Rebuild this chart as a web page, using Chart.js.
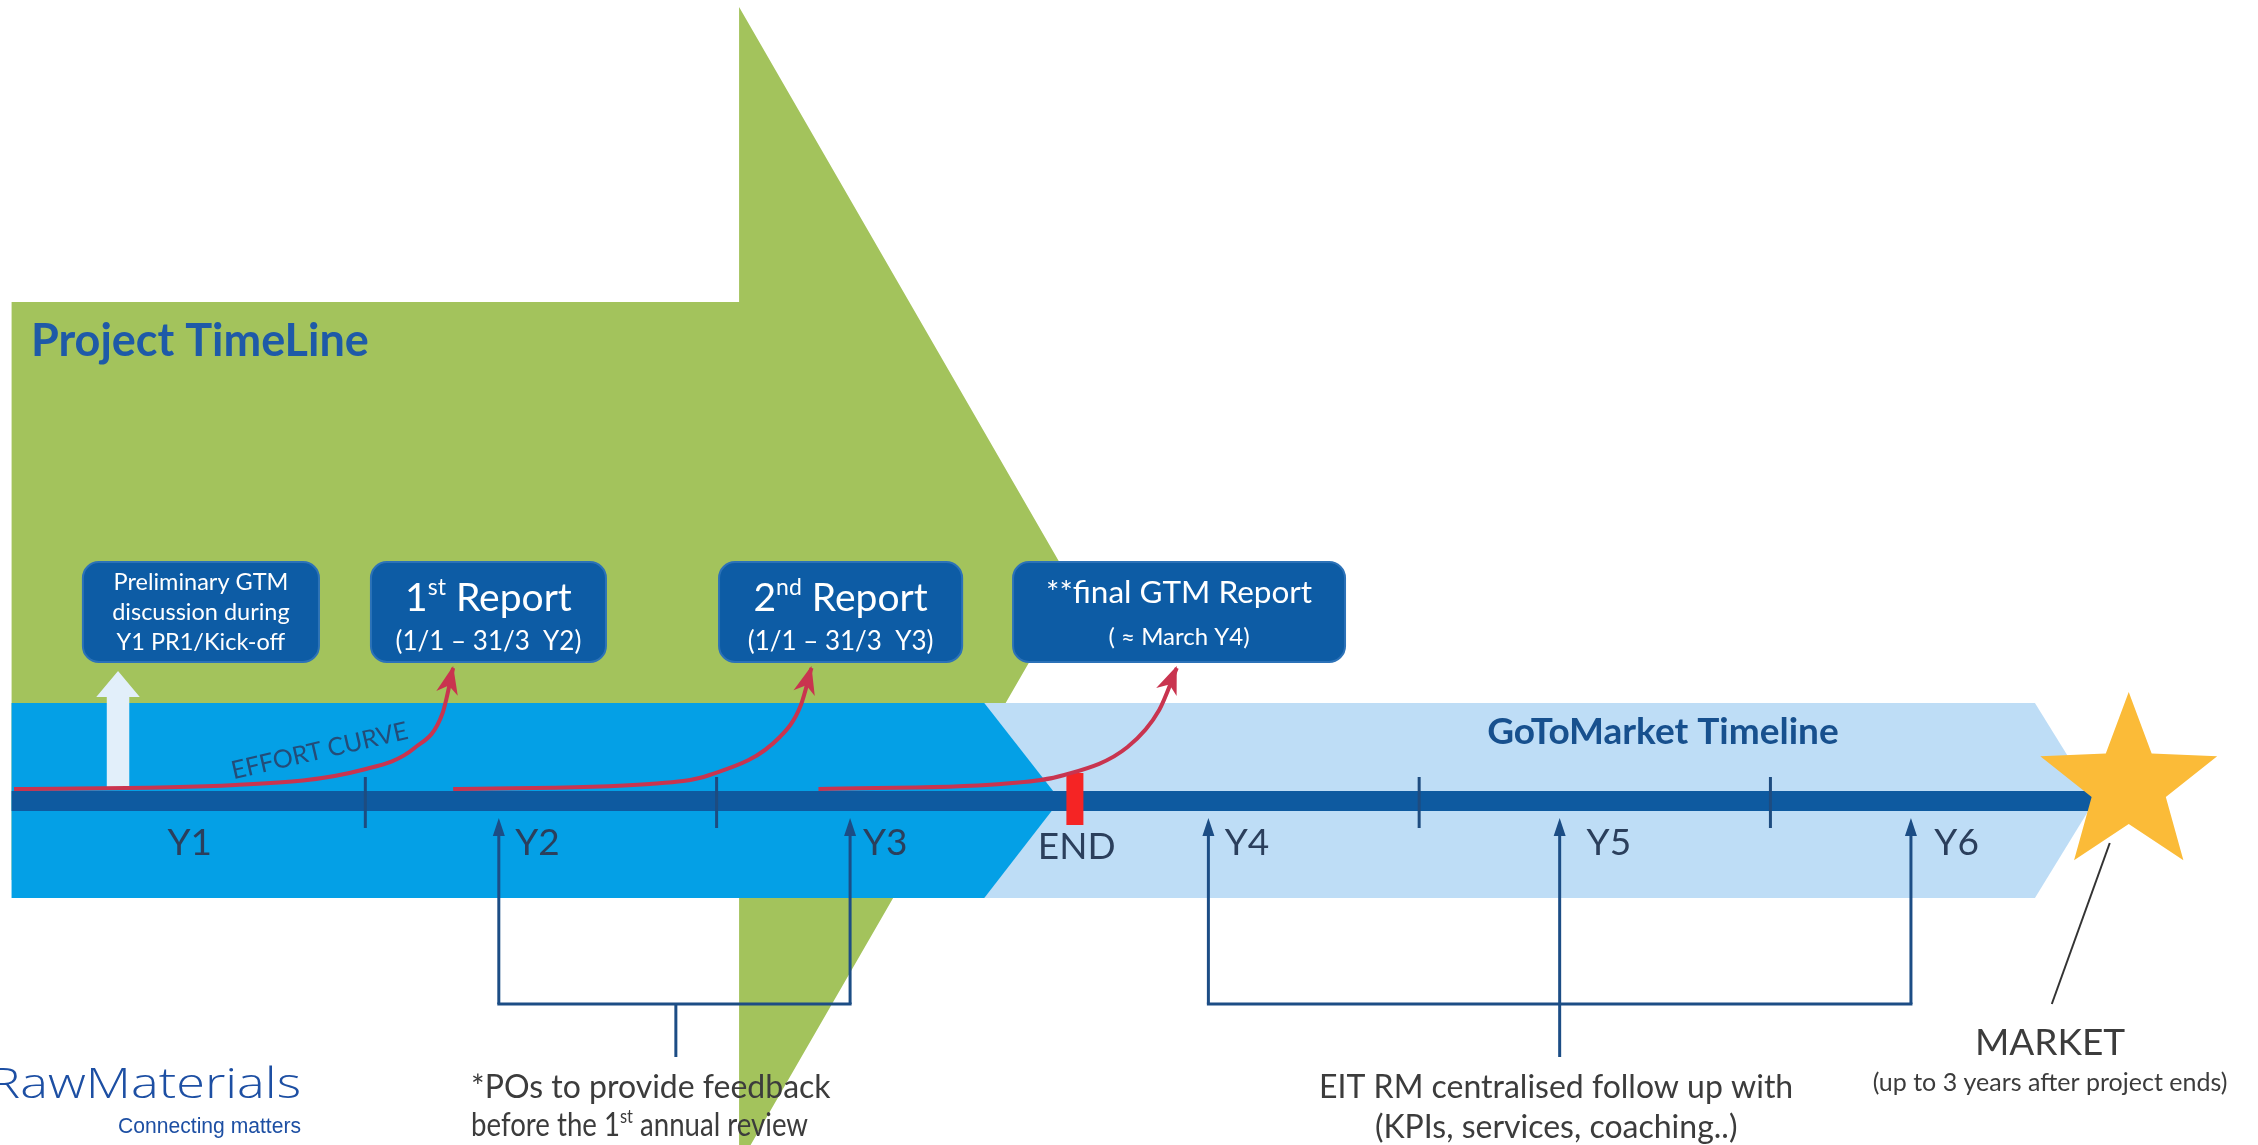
<!DOCTYPE html>
<html><head><meta charset="utf-8">
<script src="https://cdn.jsdelivr.net/npm/chart.js@4.4.1/dist/chart.umd.min.js"></script>
<style>html,body{margin:0;padding:0;background:#fff;overflow:hidden}canvas{display:block}</style>
</head><body>
<canvas id="c" width="2258" height="1145"></canvas>
<script>
// x axis: project years (0 = project start); y axis: diagram height units (0 top .. 1145 bottom)
const yearLabels = ['Y1', 'Y2', 'Y3', 'Y4', 'Y5', 'Y6'];
const yearLabelPos = [0.50, 1.49, 2.48, 3.51, 4.54, 5.53];
const yearTicks = [1, 2, 4, 5];
const projectEnd = 3.02;
const endLabel = 'END';
const followUpArrows = [1.38, 2.38, 3.40, 4.40, 5.40];
const feedbackBracket = [1.38, 2.38, 1.884];
const followUpBracket = [3.40, 5.40, 4.40];

const curve1X = [0.00, 0.63, 0.99, 1.14, 1.22, 1.25];
const curve1Y = [789, 785, 770, 748, 713, 668];
const curve2X = [1.25, 1.81, 1.98, 2.18, 2.24, 2.27];
const curve2Y = [789, 784, 775, 737, 705, 668];
const curve3X = [2.29, 2.81, 2.99, 3.17, 3.26, 3.31];
const curve3Y = [789, 784, 775, 747, 710, 668];

const boxLeft = [0.196, 1.016, 2.007, 2.844];
const boxRight = [0.868, 1.685, 2.699, 3.789];
const boxTexts = [
  ['Preliminary GTM', 'discussion during', 'Y1 PR1/Kick-off'],
  ['1^st^ Report', '(1/1 – 31/3  Y2)'],
  ['2^nd^ Report', '(1/1 – 31/3  Y3)'],
  ['**final GTM Report', '( ≈ March Y4)']
];
const projectTitle = 'Project TimeLine';
const gtmTitle = 'GoToMarket Timeline';
const effortLabel = 'EFFORT CURVE';
const feedbackNote = ['*POs to provide feedback', 'before the 1^st^ annual review'];
const followUpNote = ['EIT RM centralised follow up with', '(KPIs, services, coaching..)'];
const marketNote = ['MARKET', '(up to 3 years after project ends)'];
const logoText = ['RawMaterials', 'Connecting matters'];
const marketStar = [6.02, 785];

const diagram = {
  id: 'diagram',
  beforeDatasetsDraw(chart) {
    const c = chart.ctx;
    const X = v => chart.scales.x.getPixelForValue(v);
    const Y = v => chart.scales.y.getPixelForValue(v);
    const poly = (pts, col) => {
      c.beginPath();
      pts.forEach((p, i) => i ? c.lineTo(X(p[0]), Y(p[1])) : c.moveTo(X(p[0]), Y(p[1])));
      c.closePath(); c.fillStyle = col; c.fill();
    };
    c.save();
    // green project arrow
    poly([[-0.007, 302], [2.064, 302], [2.064, 7], [3.015, 586], [2.064, 1165], [2.064, 880], [-0.007, 880]], '#A3C35C');
    // go-to-market band
    poly([[2.6, 703], [5.753, 703], [5.924, 800], [5.753, 898], [2.6, 898]], '#BEDDF6');
    // project band
    poly([[-0.007, 703], [2.762, 703], [2.978, 800], [2.762, 898], [-0.007, 898]], '#04A0E6');
    // pale up arrow
    poly([[0.264, 787], [0.264, 697], [0.234, 697], [0.296, 671], [0.358, 697], [0.328, 697], [0.328, 787]], '#E2EFFA');
    // dark timeline bar
    poly([[-0.007, 791], [5.924, 791], [5.924, 811], [-0.007, 811]], '#0E5AA0');
    // year ticks
    c.strokeStyle = '#1E4C80'; c.lineWidth = 3;
    yearTicks.forEach(t => { c.beginPath(); c.moveTo(X(t), Y(777)); c.lineTo(X(t), Y(828)); c.stroke(); });
    // END marker
    c.fillStyle = '#F52424';
    c.fillRect(X(projectEnd) - 8.5, Y(773), 17, Y(825) - Y(773));
    c.restore();
  },
  afterDatasetsDraw(chart) {
    const c = chart.ctx;
    const X = v => chart.scales.x.getPixelForValue(v);
    const Y = v => chart.scales.y.getPixelForValue(v);
    c.save();
    // effort arrow heads
    [[curve1X, curve1Y], [curve2X, curve2Y], [curve3X, curve3Y]].forEach(([xs, ys]) => {
      const n = xs.length;
      const tx = X(xs[n - 1]), ty = Y(ys[n - 1]) - 2;
      const px = X(xs[n - 2]), py = Y(ys[n - 2]);
      const a = Math.atan2(ty - py, tx - px);
      c.save(); c.translate(tx, ty); c.rotate(a);
      c.beginPath(); c.moveTo(0, 0); c.lineTo(-28, -11); c.lineTo(-20, 0); c.lineTo(-28, 11); c.closePath();
      c.fillStyle = '#C9344F'; c.fill(); c.restore();
    });
    // rich text helper (optional target width squeezes horizontally)
    const rich = (txt, size, x, base, align, col, weight, target) => {
      const parts = txt.split('^');
      const fontN = (weight || '') + ' ' + size + 'px Lato';
      const fontS = (weight || '') + ' ' + Math.round(size * 0.6) + 'px Lato';
      let w = 0;
      parts.forEach((p, i) => { c.font = i % 2 ? fontS : fontN; w += c.measureText(p).width; });
      const s = target ? target / w : 1;
      const tw = w * s;
      const sx = align === 'center' ? x - tw / 2 : (align === 'right' ? x - tw : x);
      c.save(); c.translate(sx, base); c.scale(s, 1);
      c.fillStyle = col; c.textAlign = 'left'; c.textBaseline = 'alphabetic';
      let ox = 0;
      parts.forEach((p, i) => {
        c.font = i % 2 ? fontS : fontN;
        c.fillText(p, ox, i % 2 ? -size * 0.4 : 0);
        ox += c.measureText(p).width;
      });
      c.restore();
    };
    // boxes
    boxLeft.forEach((l, i) => {
      const x0 = X(l), x1 = X(boxRight[i]), y0 = Y(562), y1 = Y(662);
      c.beginPath(); c.roundRect(x0, y0, x1 - x0, y1 - y0, 16);
      c.fillStyle = '#0D5CA5'; c.fill();
      c.lineWidth = 2; c.strokeStyle = '#2C72B8'; c.stroke();
      const cx = (x0 + x1) / 2, t = boxTexts[i];
      if (i === 0) {
        t.forEach((s, k) => rich(s, 23.5, cx, Y(590 + k * 30), 'center', '#FFFFFF'));
      } else if (i < 3) {
        rich(t[0], 39, cx, Y(611), 'center', '#FFFFFF');
        rich(t[1], 26, cx, Y(650), 'center', '#FFFFFF');
      } else {
        rich(t[0], 31.5, cx, Y(603), 'center', '#FFFFFF');
        rich(t[1], 24, cx, Y(645), 'center', '#FFFFFF');
      }
    });
    // follow-up arrows and brackets
    c.strokeStyle = '#1C4D85'; c.fillStyle = '#1C4D85'; c.lineWidth = 3;
    followUpArrows.forEach(a => {
      c.beginPath(); c.moveTo(X(a), Y(1004)); c.lineTo(X(a), Y(832)); c.stroke();
      c.beginPath(); c.moveTo(X(a), Y(818)); c.lineTo(X(a) - 6, Y(836)); c.lineTo(X(a) + 6, Y(836)); c.closePath(); c.fill();
    });
    [feedbackBracket, followUpBracket].forEach(b => {
      c.beginPath(); c.moveTo(X(b[0]) - 1.5, Y(1004)); c.lineTo(X(b[1]) + 1.5, Y(1004)); c.stroke();
      c.beginPath(); c.moveTo(X(b[2]), Y(1004)); c.lineTo(X(b[2]), Y(1057)); c.stroke();
    });
    // market pointer line
    c.strokeStyle = '#333333'; c.lineWidth = 2;
    c.beginPath(); c.moveTo(X(5.966), Y(843)); c.lineTo(X(5.801), Y(1004)); c.stroke();
    // star
    const scx = X(marketStar[0]), scy = Y(marketStar[1]), R = 93, r = 39;
    c.beginPath();
    for (let k = 0; k < 10; k++) {
      const ang = -Math.PI / 2 + k * Math.PI / 5, rr = k % 2 ? r : R;
      const px = scx + rr * Math.cos(ang), py = scy + rr * Math.sin(ang);
      k ? c.lineTo(px, py) : c.moveTo(px, py);
    }
    c.closePath(); c.fillStyle = '#FBBB38'; c.fill();
    // titles
    rich(projectTitle, 45, X(0.048), Y(356), 'left', '#1E5AA8', 'bold');
    rich(gtmTitle, 37, X(4.694), Y(744), 'center', '#17508E', 'bold');
    // year labels
    yearLabels.forEach((s, i) => rich(s, 37, X(yearLabelPos[i]), Y(855), 'center', '#2B3F5C'));
    rich(endLabel, 37, X(projectEnd + 0.005), Y(859), 'center', '#2B3F5C');
    // effort label
    c.save(); c.translate(X(0.87), Y(751)); c.rotate(-13 * Math.PI / 180);
    c.font = '25px Lato'; c.fillStyle = '#244C78'; c.textAlign = 'center'; c.textBaseline = 'middle';
    c.fillText(effortLabel, 0, 0); c.restore();
    // notes
    rich(feedbackNote[0], 32, X(1.301), Y(1098), 'left', '#3C3C3C');
    rich(feedbackNote[1], 32, X(1.301), Y(1136), 'left', '#3C3C3C', '', 337);
    rich(followUpNote[0], 32, X(4.39), Y(1098), 'center', '#3C3C3C');
    rich(followUpNote[1], 32, X(4.39), Y(1138), 'center', '#3C3C3C');
    rich(marketNote[0], 37, X(5.796), Y(1055), 'center', '#3C3C3C');
    rich(marketNote[1], 25, X(5.796), Y(1091), 'center', '#3C3C3C');
    // logo
    const fit = (txt, font, right, base, width, col) => {
      c.font = font; const w = c.measureText(txt).width;
      c.save(); c.translate(X(right), Y(base)); c.scale(width / w, 1);
      c.fillStyle = col; c.textAlign = 'right'; c.textBaseline = 'alphabetic';
      c.fillText(txt, 0, 0); c.restore();
    };
    fit(logoText[0], '300 42px "Open Sans"', 0.817, 1098, 312, '#1D4FA3');
    fit(logoText[1], '22px "Liberation Sans"', 0.817, 1133, 183, '#1D4FA3');
    c.restore();
  }
};

const mk = (xs, ys) => xs.map((v, i) => ({ x: v, y: ys[i] }));
new Chart(document.getElementById('c'), {
  type: 'line',
  data: {
    datasets: [[curve1X, curve1Y], [curve2X, curve2Y], [curve3X, curve3Y]].map(([xs, ys]) => ({
      data: mk(xs, ys),
      borderColor: '#C9344F',
      borderWidth: 4,
      pointRadius: 0,
      fill: false,
      cubicInterpolationMode: 'monotone',
      clip: false
    }))
  },
  options: {
    responsive: false,
    animation: false,
    devicePixelRatio: 1,
    layout: { padding: 0 },
    plugins: { legend: { display: false }, tooltip: { enabled: false } },
    scales: {
      x: { type: 'linear', min: -0.04, max: 6.388, display: false },
      y: { type: 'linear', min: 0, max: 1145, reverse: true, display: false }
    }
  },
  plugins: [diagram]
});
</script>
</body></html>
